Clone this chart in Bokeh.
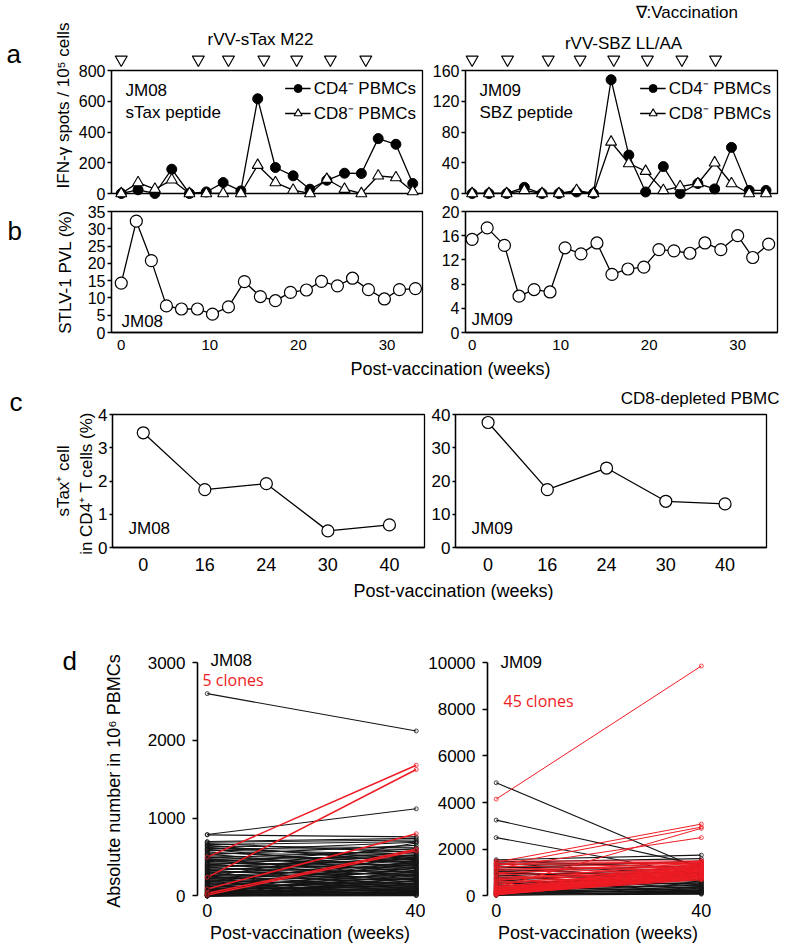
import math
from bokeh.plotting import figure
from bokeh.core.properties import value
from bokeh.models import (ColumnDataSource, Range1d, FixedTicker, Label,
                          Legend, LegendItem)
from bokeh.layouts import column, row
from bokeh.embed import file_html
from bokeh.resources import INLINE

FONT = "Liberation Sans"
RED = "#ee1c24"

# ---------------- data ----------------
# panel a : IFN-gamma ELISpot
a08_weeks = [0, 1.9, 3.8, 5.7, 7.7, 9.6, 11.5, 13.5, 15.4, 17.4, 19.4, 21.3, 23.2, 25.2, 27.1, 29.0, 31.0, 32.9]
a08_cd4 = [0, 24, 0, 158, 0, 10, 71, 17, 616, 169, 115, 28, 86, 132, 130, 357, 320, 65]
a08_cd8 = [0, 71, 28, 89, 0, 0, 0, 0, 184, 71, 22, 0, 93, 28, 0, 115, 104, 13]
a09_weeks = [0, 1.9, 3.9, 5.9, 7.9, 9.8, 11.8, 13.7, 15.7, 17.7, 19.6, 21.6, 23.5, 25.5, 27.4, 29.3, 31.3, 33.2]
a09_cd4 = [0, 0, 0, 8, 0, 0, 2, 0, 148, 50, 2, 35, 0, 13, 6, 60, 4, 4]
a09_cd8 = [0, 0, 0, 4, 0, 0, 4, 0, 67, 39, 29, 4, 9, 13, 40, 13, 0, 0]
vac08_weeks = [0, 8.7, 12.1, 16.1, 19.8, 23.6, 27.6]
vac09_weeks = [0, 4.0, 8.6, 12.2, 16.0, 19.8, 23.7, 27.5]
a08_yticks = [0, 200, 400, 600, 800]
a09_yticks = [0, 40, 80, 120, 160]
legend_labels = ["CD4\u207b PBMCs", "CD8\u207b PBMCs"]

# panel b : STLV-1 PVL (%)
b08_weeks = [0, 1.7, 3.4, 5.1, 6.8, 8.6, 10.3, 12.1, 13.9, 15.7, 17.4, 19.1, 20.9, 22.6, 24.4, 26.1, 27.9, 29.7, 31.4, 33.2]
b08_pvl = [14.3, 32.2, 20.8, 7.7, 6.8, 6.8, 5.3, 7.4, 14.7, 10.4, 9.2, 11.6, 12.3, 14.8, 13.5, 15.7, 12.4, 9.7, 12.4, 12.7]
b09_weeks = [0, 1.7, 3.65, 5.3, 7.0, 8.8, 10.5, 12.3, 14.1, 15.8, 17.6, 19.4, 21.1, 22.8, 24.6, 26.3, 28.1, 30.0, 31.7, 33.5]
b09_pvl = [15.4, 17.3, 14.4, 6.0, 7.1, 6.7, 14.0, 13.0, 14.8, 9.6, 10.5, 10.8, 13.7, 13.5, 13.1, 14.8, 13.7, 16.0, 12.4, 14.6]
b_xticks = [0, 10, 20, 30]
b08_yticks = [0, 5, 10, 15, 20, 25, 30, 35]
b09_yticks = [0, 4, 8, 12, 16, 20]

# panel c : sTax+ cells in CD4+ T cells (%)
c_weeks = ["0", "16", "24", "30", "40"]
c08 = [3.45, 1.74, 1.92, 0.5, 0.68]
c09 = [37.6, 17.4, 23.9, 13.9, 13.1]
c08_yticks = [0, 1, 2, 3, 4]
c09_yticks = [0, 10, 20, 30, 40]

# panel d : clone numbers at week 0 and week 40
d_weeks = [0, 40]
blk08_w0 = [2600, 790, 785, 700, 690, 675, 660, 650, 640, 625,
            610, 600, 590, 580, 565, 550, 540, 530, 515, 500,
            490, 480, 470, 455, 445, 430, 420, 410, 400, 390,
            380, 370, 360, 350, 340, 330, 320, 310, 300, 290,
            280, 270, 262, 255, 245, 235, 228, 220, 210, 200,
            192, 185, 175, 168, 160, 150, 142, 135, 128, 120,
            112, 105, 98, 90, 84, 78, 72, 66, 60, 55,
            50, 45, 40, 36, 32, 28, 24, 20, 17, 14,
            11, 8, 6, 4, 2, 1, 0, 0, 0, 0]
blk08_w40 = [2120, 1120, 760, 740, 720, 560, 700, 430, 620, 480,
             600, 350, 540, 690, 420, 520, 300, 650, 470, 380,
             580, 260, 510, 440, 330, 610, 400, 250, 560, 360,
             470, 200, 530, 310, 420, 180, 500, 280, 390, 150,
             460, 240, 350, 120, 680, 300, 210, 430, 100, 370,
             270, 160, 500, 90, 330, 230, 140, 410, 60, 290,
             190, 80, 450, 220, 130, 40, 360, 170, 70, 260,
             110, 30, 320, 150, 50, 200, 90, 20, 280, 120,
             10, 230, 60, 160, 40, 100, 5, 190, 25, 70]
red08_w0 = [500, 240, 90, 35, 13]
red08_w40 = [1680, 1625, 800, 600, 580]

blk09_w0 = [4850, 3250, 2500, 1550, 1500, 1450, 1400, 1350, 1300, 1250,
            1200, 1150, 1100, 1050, 1000, 950, 900, 850, 800, 750,
            700, 650, 600, 560, 520, 480, 440, 400, 370, 340,
            310, 280, 250, 220, 200, 180, 160, 140, 120, 100,
            80, 60, 40, 20]
blk09_w40 = [1150, 1300, 900, 1750, 1200, 1600, 900, 1400, 600, 1100,
             1500, 800, 400, 1300, 700, 1000, 300, 1200, 500, 900,
             200, 1100, 650, 350, 800, 150, 550, 1000, 250, 700,
             450, 120, 600, 300, 900, 200, 500, 100, 400, 250,
             150, 350, 80, 200]
red09_w0 = [4150, 1450, 1300, 1200, 350, 1500, 1400, 1350, 1250, 1150,
            1100, 1000, 950, 900, 800, 750, 700, 650, 600, 550,
            500, 450, 400, 380, 350, 320, 300, 280, 260, 240,
            220, 200, 180, 160, 150, 140, 130, 120, 110, 100,
            90, 80, 70, 60, 50]
red09_w40 = [9850, 3080, 2950, 2500, 2900, 1500, 1450, 1400, 1350, 1300,
             1250, 1200, 1500, 1150, 1100, 1050, 1000, 1450, 950, 900,
             1350, 850, 800, 1300, 750, 1250, 700, 1200, 1400, 1150,
             1100, 1050, 1000, 950, 900, 1300, 850, 800, 1200, 750,
             1100, 700, 1000, 900, 800]
d08_yticks = [0, 1000, 2000, 3000]
d09_yticks = [0, 2000, 4000, 6000, 8000, 10000]


# ---------------- helpers ----------------
def base_fig(width, height, bl, br, bt, bb, xr, yr, outline=True):
    p = figure(width=width, height=height, x_range=Range1d(*xr), y_range=Range1d(*yr),
               output_backend="svg", toolbar_location=None, tools="")
    p.min_border_left = bl
    p.min_border_right = br
    p.min_border_top = bt
    p.min_border_bottom = bb
    p.xgrid.visible = False
    p.ygrid.visible = False
    p.outline_line_color = "black" if outline else None
    p.outline_line_width = 1.3
    p.background_fill_color = "white"
    p.border_fill_color = "white"
    return p


def style_axis(ax, ticks, size="16px", tick_out=4, standoff=2, line=True, overrides=None):
    ax.ticker = FixedTicker(ticks=ticks)
    ax.major_tick_out = tick_out
    ax.major_tick_in = 0
    ax.minor_tick_out = 0
    ax.minor_tick_in = 0
    ax.major_label_standoff = standoff
    ax.major_label_text_font = FONT
    ax.major_label_text_font_size = size
    ax.major_label_text_color = "black"
    ax.axis_line_color = "black" if line else None
    ax.axis_line_width = 1.3
    ax.major_tick_line_color = "black" if tick_out > 0 else None
    ax.major_tick_line_width = 1.3
    if overrides:
        ax.major_label_overrides = overrides


def axis_title(ax, text, size="17px", standoff=10):
    ax.axis_label = text
    ax.axis_label_text_font = FONT
    ax.axis_label_text_font_size = size
    ax.axis_label_text_font_style = "normal"
    ax.axis_label_text_color = "black"
    ax.axis_label_standoff = standoff


def lab(p, x, y, text, size="17px", align="left", baseline="middle", color="black", font=FONT):
    """text inside the frame (x, y in px from the frame's bottom-left)"""
    p.add_layout(Label(x=x, y=y, x_units="screen", y_units="screen", text=text,
                       text_font=font, text_font_size=size, text_align=align,
                       text_baseline=baseline, text_color=color))


def ftext(p, px, py, text, size="17px", align="left", baseline="middle", color="black",
          font=FONT, angle=0.0):
    """free text that may lie outside the frame (px, py from the frame's bottom-left)"""
    p.text(x=[p.x_range.start], y=[p.y_range.start], text=[text], x_offset=px, y_offset=-py,
           angle=angle, text_font=value(font), text_font_size=value(size),
           text_align=align, text_baseline=baseline, text_color=color, level="overlay")


FRAME_A = 123  # frame height of panel a in px


def panel_a(width, bl, br, xr, weeks, cd4, cd8, yticks, vac, id_text, pep_text):
    p = base_fig(width, 205, bl, br, 70, 12, xr, (0, yticks[-1]))
    p.xaxis.visible = False
    style_axis(p.yaxis[0], yticks, size="16px", tick_out=4, standoff=2)
    l2 = p.line(weeks, cd8, line_color="black", line_width=1.3)
    l1 = p.line(weeks, cd4, line_color="black", line_width=1.3)
    s1 = p.scatter(weeks, cd4, marker="circle", size=10, fill_color="black",
                   line_color="black", level="overlay")
    s2 = p.scatter(weeks, cd8, marker="triangle", size=11, fill_color="white",
                   line_color="black", line_width=1.1, level="overlay")
    leg = Legend(items=[LegendItem(label=legend_labels[0], renderers=[l1, s1]),
                        LegendItem(label=legend_labels[1], renderers=[l2, s2])],
                 location="top_right", margin=6, padding=3, spacing=2,
                 glyph_width=26, glyph_height=20, label_standoff=3,
                 label_text_font=FONT, label_text_font_size="17px", label_text_color="black",
                 border_line_color=None, background_fill_alpha=0)
    p.add_layout(leg)
    # vaccination marks just above the box
    vac_y = [yticks[-1] * (1 + 11 / FRAME_A)] * len(vac)
    p.scatter(vac, vac_y, marker="inverted_triangle", size=12, fill_color="white",
              line_color="black", line_width=1.2, level="overlay")
    lab(p, 14, 103, id_text)
    lab(p, 14, 81, pep_text)
    return p


def panel_b(width, bl, br, xr, weeks, pvl, yticks, id_text, id_x, id_y):
    p = base_fig(width, 151, bl, br, 6, 24, xr, (0, yticks[-1]))
    style_axis(p.xaxis[0], b_xticks, size="15px", tick_out=0, standoff=7)
    style_axis(p.yaxis[0], yticks, size="16px", tick_out=4, standoff=2)
    p.line(weeks, pvl, line_color="black", line_width=1.3)
    p.scatter(weeks, pvl, marker="circle", size=12, fill_color="white",
              line_color="black", line_width=1.2, level="overlay")
    lab(p, id_x, id_y, id_text)
    return p


def panel_c(width, bl, br, xr, vals, yticks, id_text):
    p = base_fig(width, 198, bl, br, 34, 31, xr, (0, yticks[-1]))
    pos = list(range(len(c_weeks)))
    style_axis(p.xaxis[0], pos, size="18px", tick_out=0, standoff=10,
               overrides={i: c_weeks[i] for i in pos})
    style_axis(p.yaxis[0], yticks, size="17px", tick_out=3, standoff=2)
    p.line(pos, vals, line_color="black", line_width=1.3)
    p.scatter(pos, vals, marker="circle", size=12, fill_color="white",
              line_color="black", line_width=1.2, level="overlay")
    lab(p, 16, 19, id_text)
    return p


def panel_d(width, bl, br, xr, yr, yticks, blk0, blk1, red0, red1, red_w):
    p = base_fig(width, 347, bl, br, 62, 48, xr, yr, outline=False)
    style_axis(p.xaxis[0], d_weeks, size="18px", tick_out=0, standoff=4, line=False)
    style_axis(p.yaxis[0], yticks, size="17px", tick_out=5, standoff=7)
    p.yaxis[0].bounds = (yticks[0], yticks[-1])
    p.yaxis[0].axis_line_width = 1.6
    axis_title(p.xaxis[0], "Post-vaccination (weeks)", size="18px", standoff=3)
    for w0, w1, col, lw in ((blk0, blk1, "#141414", 1.1), (red0, red1, RED, red_w)):
        n = len(w0)
        src = ColumnDataSource(dict(x0=[d_weeks[0]] * n, y0=w0, x1=[d_weeks[1]] * n, y1=w1))
        p.segment(x0="x0", y0="y0", x1="x1", y1="y1", source=src, line_color=col, line_width=lw)
        p.scatter(x="x0", y="y0", source=src, marker="circle", size=4, fill_color=None,
                  line_color=col, line_width=0.8, level="overlay")
        p.scatter(x="x1", y="y1", source=src, marker="circle", size=4, fill_color=None,
                  line_color=col, line_width=0.8, level="overlay")
    return p


def text_row(width, height, x, y, text, size="18px"):
    p = figure(width=width, height=height, output_backend="svg", toolbar_location=None,
               tools="", x_axis_location=None, y_axis_location=None)
    p.min_border_left = 0
    p.min_border_right = 0
    p.min_border_top = 0
    p.min_border_bottom = 0
    p.outline_line_color = None
    p.xgrid.visible = False
    p.ygrid.visible = False
    lab(p, x, y, text, size=size, align="center")
    return p


# ---------------- panels ----------------
aL = panel_a(426, 111, 4, (-1.1, 34.0), a08_weeks, a08_cd4, a08_cd8, a08_yticks, vac08_weeks,
             "JM08", "sTax peptide")
ftext(aL, -105, 140, "a", size="26px", baseline="alphabetic")
ftext(aL, 149, 154, "rVV-sTax M22", align="center")
ftext(aL, -48, 88, "IFN-\u03b3 spots / 10\u2075 cells", align="center", angle=math.pi / 2)

aR = panel_a(361, 39, 10, (-0.75, 34.5), a09_weeks, a09_cd4, a09_cd8, a09_yticks, vac09_weeks,
             "JM09", "SBZ peptide")
ftext(aR, 158, 150, "rVV-SBZ LL/AA", align="center")
ftext(aR, 170, 181, "\u2207:Vaccination")

bL = panel_b(426, 111, 4, (-1.1, 34.0), b08_weeks, b08_pvl, b08_yticks, "JM08", 10, 11)
axis_title(bL.yaxis[0], "STLV-1 PVL (%)", size="17px", standoff=10)
ftext(bL, -104, 102, "b", size="26px", baseline="alphabetic")
bR = panel_b(361, 39, 10, (-0.75, 34.5), b09_weeks, b09_pvl, b09_yticks, "JM09", 6, 13)

b_title = text_row(787, 24, 450, 12, "Post-vaccination (weeks)")

cL = panel_c(428, 112, 4, (-0.5, 4.57), c08, c08_yticks, "JM08")
axis_title(cL.yaxis[0], "sTax\u207a cell\nin CD4\u207a T cells  (%)", size="17px", standoff=-1)
ftext(cL, -103, 146, "c", size="26px", baseline="alphabetic")
cR = panel_c(359, 25, 21, (-0.55, 4.7), c09, c09_yticks, "JM09")
ftext(cR, 324, 149, "CD8-depleted PBMC", align="right")

c_title = text_row(787, 22, 453, 10, "Post-vaccination (weeks)")

dL = panel_d(425, 197, 3, (-1.86, 41.2), (-45, 3000), d08_yticks,
             blk08_w0, blk08_w40, red08_w0, red08_w40, 1.5)
axis_title(dL.yaxis[0], "Absolute number in 10\u2076 PBMCs", size="18px", standoff=21)
ftext(dL, -135, 239, "d", size="26px", baseline="alphabetic")
ftext(dL, 13, 239, "JM08")
lab(dL, 5, 220, "5 clones", size="16px", color=RED, font="Open Sans")

dR = panel_d(362, 62, 79, (-1.7, 41.4), (-150, 10000), d09_yticks,
             blk09_w0, blk09_w40, red09_w0, red09_w40, 1.0)
ftext(dR, 13, 237, "JM09")
lab(dR, 16, 199, "45 clones", size="16px", color=RED, font="Open Sans")

layout = column(row(aL, aR), row(bL, bR), b_title, row(cL, cR), c_title, row(dL, dR))

open("out.html", "w").write(file_html(layout, INLINE))
